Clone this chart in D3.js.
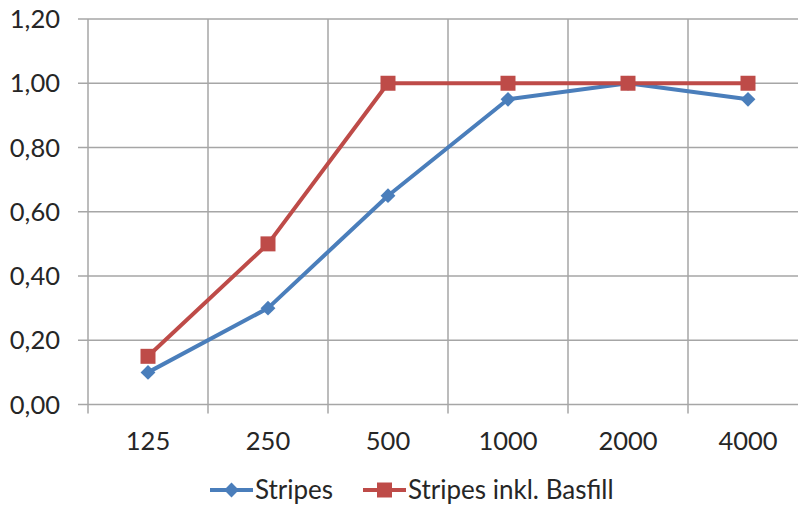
<!DOCTYPE html>
<html>
<head>
<meta charset="utf-8">
<script src="https://cdn.jsdelivr.net/npm/d3@7"></script>
<style>
  body { margin: 0; background: #fff; }
  svg { display: block; font-family: Lato, "Open Sans", sans-serif; }
</style>
</head>
<body>
<div id="chart"></div>
<script>
// Data
const FREQUENCIES = ["125", "250", "500", "1000", "2000", "4000"];
const STRIPES = [0.10, 0.30, 0.65, 0.95, 1.00, 0.95];
const STRIPES_BASFILL = [0.15, 0.50, 1.00, 1.00, 1.00, 1.00];
const Y_TICKS = [0, 0.2, 0.4, 0.6, 0.8, 1.0, 1.2];
const SERIES_NAMES = ["Stripes", "Stripes inkl. Basfill"];

const COLORS = {
  blue: "#4a7ebb",
  red: "#be4b48",
  grid: "#a6a6a6",
  text: "#262626",
};

const WIDTH = 798, HEIGHT = 509;
const margin = { top: 19, right: -10, bottom: 104.5, left: 88 };

const svg = d3.select("#chart")
  .append("svg")
  .attr("width", WIDTH)
  .attr("height", HEIGHT);

const x = d3.scaleBand()
  .domain(FREQUENCIES)
  .range([margin.left, WIDTH - margin.right]);

const y = d3.scaleLinear()
  .domain([0, 1.2])
  .range([HEIGHT - margin.bottom, margin.top]);

const fmt = (v) => d3.format(".2f")(v).replace(".", ",");

// markers: square for basfill, square turned 45deg for stripes
const MARKERS = {
  diamond: { path: d3.symbol().type(d3.symbolSquare).size(110)(), rotate: 45 },
  square: { path: d3.symbol().type(d3.symbolSquare).size(225)(), rotate: 0 },
};

// horizontal grid + y tick marks
svg.append("g")
  .selectAll("line")
  .data(Y_TICKS)
  .join("line")
  .attr("x1", margin.left - 10)
  .attr("x2", WIDTH - margin.right)
  .attr("y1", (d) => y(d))
  .attr("y2", (d) => y(d))
  .attr("stroke", COLORS.grid)
  .attr("stroke-width", 1.5);

// vertical grid at category boundaries, with tick marks below axis
const boundaries = FREQUENCIES.map((f) => x(f));
svg.append("g")
  .selectAll("line")
  .data(boundaries)
  .join("line")
  .attr("x1", (d) => d)
  .attr("x2", (d) => d)
  .attr("y1", y(1.2))
  .attr("y2", y(0) + 9)
  .attr("stroke", COLORS.grid)
  .attr("stroke-width", 1.5);

// y labels
svg.append("g")
  .selectAll("text")
  .data(Y_TICKS)
  .join("text")
  .attr("x", 60)
  .attr("y", (d) => y(d))
  .attr("dy", "0.36em")
  .attr("text-anchor", "end")
  .attr("font-size", 25.5)
  .attr("fill", COLORS.text)
  .text(fmt);

// x labels
svg.append("g")
  .selectAll("text")
  .data(FREQUENCIES)
  .join("text")
  .attr("x", (d) => x(d) + x.bandwidth() / 2)
  .attr("y", 450)
  .attr("text-anchor", "middle")
  .attr("font-size", 25.5)
  .attr("fill", COLORS.text)
  .text((d) => d);

const line = d3.line()
  .x((d, i) => x(FREQUENCIES[i]) + x.bandwidth() / 2)
  .y((d) => y(d));

function drawSeries(values, color, marker) {
  svg.append("path")
    .datum(values)
    .attr("fill", "none")
    .attr("stroke", color)
    .attr("stroke-width", 4)
    .attr("stroke-linejoin", "round")
    .attr("d", line);

  svg.append("g")
    .selectAll("path")
    .data(values)
    .join("path")
    .attr("transform", (d, i) =>
      `translate(${x(FREQUENCIES[i]) + x.bandwidth() / 2},${y(d)}) rotate(${marker.rotate})`)
    .attr("d", marker.path)
    .attr("fill", color);
}

drawSeries(STRIPES, COLORS.blue, MARKERS.diamond);
drawSeries(STRIPES_BASFILL, COLORS.red, MARKERS.square);

// legend
const legendItems = [
  { name: SERIES_NAMES[0], color: COLORS.blue, marker: MARKERS.diamond, x: 210 },
  { name: SERIES_NAMES[1], color: COLORS.red, marker: MARKERS.square, x: 363 },
];
const legendY = 490;
const lg = svg.append("g")
  .selectAll("g")
  .data(legendItems)
  .join("g")
  .attr("transform", (d) => `translate(${d.x},${legendY})`);

lg.append("line")
  .attr("x1", 0)
  .attr("x2", 43)
  .attr("stroke", (d) => d.color)
  .attr("stroke-width", 4);

lg.append("path")
  .attr("transform", (d) => `translate(21.5,0) rotate(${d.marker.rotate})`)
  .attr("d", (d) => d.marker.path)
  .attr("fill", (d) => d.color);

lg.append("text")
  .attr("x", 45)
  .attr("dy", "0.36em")
  .attr("font-size", 26)
  .attr("fill", COLORS.text)
  .text((d) => d.name);
</script>
</body>
</html>
